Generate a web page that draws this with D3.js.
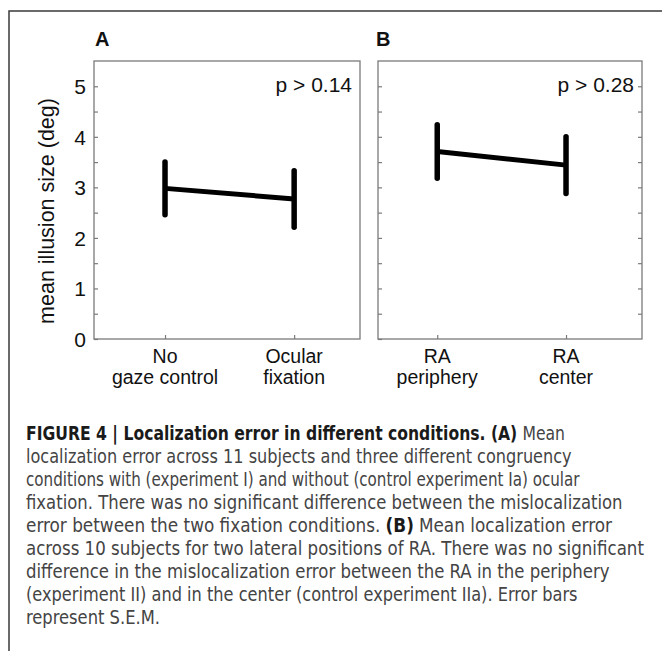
<!DOCTYPE html>
<html><head><meta charset="utf-8">
<script src="https://cdn.jsdelivr.net/npm/d3@7"></script>
<style>body{margin:0;background:#fff;}svg{display:block;}</style>
</head><body>
<svg id="c" width="662" height="651"></svg>
<script>
// ---- data ----
const panelLetters = ["A", "B"];
const catsA = [["No", "gaze control"], ["Ocular", "fixation"]];
const catsB = [["RA", "periphery"], ["RA", "center"]];
const meansA = [2.98, 2.77];
const semA = [0.52, 0.56];
const meansB = [3.71, 3.44];
const semB = [0.53, 0.56];
const pLabels = ["p > 0.14", "p > 0.28"];
const yTickLabels = [0, 1, 2, 3, 4, 5];
const yLabel = "mean illusion size (deg)";
const captionLines = [
  [["FIGURE 4 | Localization error in different conditions. (A)", true], ["Mean", false]],
  [["localization error across 11 subjects and three different congruency", false]],
  [["conditions with (experiment I) and without (control experiment Ia) ocular", false]],
  [["fixation. There was no significant difference between the mislocalization", false]],
  [["error between the two fixation conditions.", false], ["(B)", true], ["Mean localization error", false]],
  [["across 10 subjects for two lateral positions of RA. There was no significant", false]],
  [["difference in the mislocalization error between the RA in the periphery", false]],
  [["(experiment II) and in the center (control experiment IIa). Error bars", false]],
  [["represent S.E.M.", false]]
];
const captionEnds = [565, 572, 580, 623, 612, 644, 610, 578, 160];

// ---- layout ----
const svg = d3.select("#c");
const font = "'Liberation Sans', Arial, Helvetica, sans-serif";
const plotTop = 61, plotBottom = 339;
const y = d3.scaleLinear().domain([0, 5.5]).range([plotBottom, plotTop]);

svg.append("path").attr("d", "M9,651 V11 H662").attr("fill", "none")
  .attr("stroke", "#3a3a3a").attr("stroke-width", 1.5);

const panels = [
  {x0: 94, x1: 360, dom: [0.45, 2.51], cats: catsA, means: meansA, sem: semA, letterX: 95, rightTicks: false, yAxisLabels: true},
  {x0: 378, x1: 642, dom: [0.54, 2.59], cats: catsB, means: meansB, sem: semB, letterX: 376, rightTicks: true, yAxisLabels: false}
];

panels.forEach((p, pi) => {
  const x = d3.scaleLinear().domain(p.dom).range([p.x0, p.x1]);
  const g = svg.append("g");
  g.append("rect").attr("x", p.x0).attr("y", plotTop).attr("width", p.x1 - p.x0).attr("height", plotBottom - plotTop)
    .attr("fill", "none").attr("stroke", "#7a7a7a").attr("stroke-width", 1.3);
  const leftAxis = d3.axisLeft(y).tickValues(d3.range(0, 5.01, 0.5)).tickSizeInner(-4).tickSizeOuter(0)
    .tickFormat(d => (p.yAxisLabels && Number.isInteger(d)) ? yTickLabels[d] : "");
  const la = g.append("g").attr("transform", `translate(${p.x0},0)`).call(leftAxis);
  la.select(".domain").remove();
  la.selectAll(".tick line").attr("stroke", "#7a7a7a").attr("stroke-width", 1.2);
  la.selectAll(".tick text").attr("x", -8).attr("dy", "0.35em").attr("font-family", font).attr("font-size", 21).attr("fill", "#111");
  if (p.rightTicks) {
    const ra = g.append("g").attr("transform", `translate(${p.x1},0)`)
      .call(d3.axisRight(y).tickValues(d3.range(0.5, 5.01, 0.5)).tickSizeInner(-4).tickSizeOuter(0).tickFormat(""));
    ra.select(".domain").remove();
    ra.selectAll(".tick line").attr("stroke", "#7a7a7a").attr("stroke-width", 1.2);
  }
  const ba = g.append("g").attr("transform", `translate(0,${plotBottom})`)
    .call(d3.axisBottom(x).tickValues([1, 2]).tickSizeInner(-4).tickSizeOuter(0).tickFormat(""));
  ba.select(".domain").remove();
  ba.selectAll(".tick line").attr("stroke", "#7a7a7a").attr("stroke-width", 1.2);
  p.cats.forEach((c, i) => {
    const t = g.append("text").attr("x", x(i + 1)).attr("y", 362.5).attr("text-anchor", "middle")
      .attr("font-family", font).attr("font-size", 19.5).attr("fill", "#111");
    t.append("tspan").attr("x", x(i + 1)).text(c[0]);
    t.append("tspan").attr("x", x(i + 1)).attr("dy", 21.5).text(c[1]);
  });
  const line = d3.line().x((d, i) => x(i + 1)).y(d => y(d));
  g.append("path").datum(p.means).attr("d", line).attr("fill", "none")
    .attr("stroke", "#000").attr("stroke-width", 5);
  g.selectAll(".eb").data(p.means).enter().append("line")
    .attr("x1", (d, i) => x(i + 1)).attr("x2", (d, i) => x(i + 1))
    .attr("y1", (d, i) => y(d - p.sem[i])).attr("y2", (d, i) => y(d + p.sem[i]))
    .attr("stroke", "#000").attr("stroke-width", 5.5).attr("stroke-linecap", "round");
  g.append("text").attr("x", p.x1 - 8).attr("y", 92).attr("text-anchor", "end")
    .attr("font-family", font).attr("font-size", 21).attr("fill", "#111").text(pLabels[pi]);
  g.append("text").attr("x", p.letterX).attr("y", 46).attr("font-family", font)
    .attr("font-weight", "bold").attr("font-size", 20).attr("fill", "#111").text(panelLetters[pi]);
});

svg.append("text").attr("transform", "translate(54,211) rotate(-90)").attr("text-anchor", "middle")
  .attr("font-family", font).attr("font-size", 21.5).attr("fill", "#111").text(yLabel);

// caption: each line horizontally scaled to the reference width; pieces are separate texts with a word gap
const capFont = "'Liberation Sans Narrow', 'DejaVu Sans Condensed', 'Liberation Sans', sans-serif";
const capSize = 19, gap = 5;
captionLines.forEach((parts, i) => {
  const yy = 440 + 23 * i;
  const texts = parts.map(([s, b]) => svg.append("text").attr("x", 0).attr("y", 0)
      .attr("font-family", capFont).attr("font-size", capSize)
      .attr("fill", b ? "#1a1a1a" : "#444").attr("font-weight", b ? "bold" : "normal").text(s));
  const widths = texts.map(t => t.node().getComputedTextLength());
  const avail = (captionEnds[i] - 26) - gap * (texts.length - 1);
  const k = avail / d3.sum(widths);
  let cx = 26;
  texts.forEach((t, j) => {
    t.attr("transform", `translate(${cx},${yy}) scale(${k},1)`);
    cx += widths[j] * k + gap;
  });
});
</script>
</body></html>
